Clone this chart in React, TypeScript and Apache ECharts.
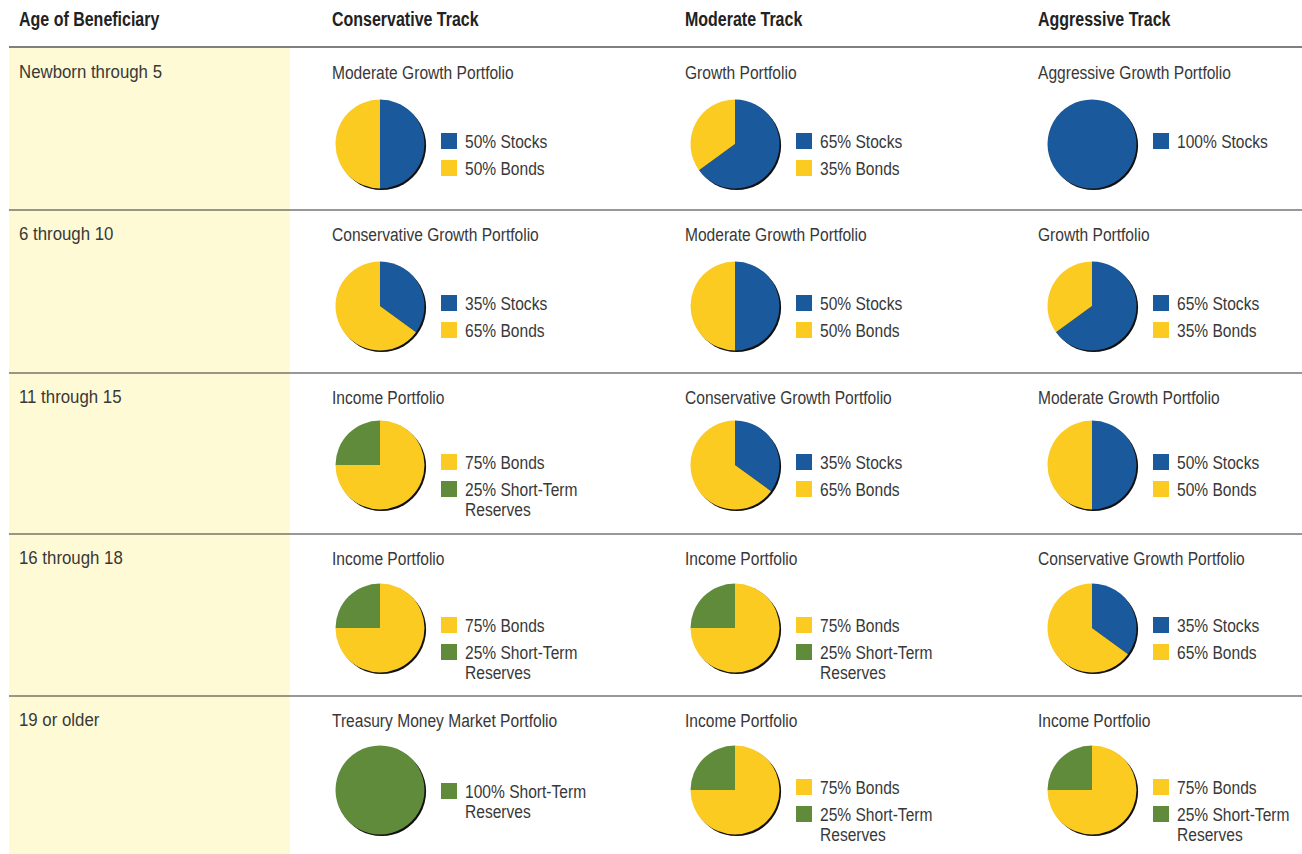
import React, { useEffect, useRef } from "react";
import * as echarts from "echarts";

const ages = ["Newborn through 5", "6 through 10", "11 through 15", "16 through 18", "19 or older"];
const tracks = ["Conservative Track", "Moderate Track", "Aggressive Track"];
const ageHeader = "Age of Beneficiary";

// per track (column), per age (row)
const portfolios = [
  ["Moderate Growth Portfolio", "Conservative Growth Portfolio", "Income Portfolio", "Income Portfolio", "Treasury Money Market Portfolio"],
  ["Growth Portfolio", "Moderate Growth Portfolio", "Conservative Growth Portfolio", "Income Portfolio", "Income Portfolio"],
  ["Aggressive Growth Portfolio", "Growth Portfolio", "Moderate Growth Portfolio", "Conservative Growth Portfolio", "Income Portfolio"],
];
const stocks = [
  [50, 35, 0, 0, 0],
  [65, 50, 35, 0, 0],
  [100, 65, 50, 35, 0],
];
const bonds = [
  [50, 65, 75, 75, 0],
  [35, 50, 65, 75, 75],
  [0, 35, 50, 65, 75],
];
const reserves = [
  [0, 0, 25, 25, 100],
  [0, 0, 0, 25, 25],
  [0, 0, 0, 0, 25],
];
const assetNames = ["Stocks", "Bonds", "Short-Term\nReserves"];

// layout & style
const BLUE = "#1a5a9c";
const YELLOW = "#fbcb22";
const GREEN = "#5f8b3b";
const COLORS = [BLUE, YELLOW, GREEN];
const FONT = '"Liberation Sans", Arial, sans-serif';
const SX = 0.82; // horizontal condensing to mimic a narrow face
const TEXT = "#383838";
const rowTops = [48, 210, 373, 534, 696];
const pieCY = [144, 306, 465, 628, 790];
const colX = [332, 685, 1038];
const pieCX = [380, 735, 1092];
const R = 44.5;

export default function App() {
  const ref = useRef<HTMLDivElement>(null);
  useEffect(() => {
    const chart = echarts.init(ref.current!, null, { renderer: "svg" });
    const series: any[] = [];
    const graphic: any[] = [];

    const txt = (x: number, y: number, text: string, font: string, fill = TEXT, sx = SX) => ({
      type: "text", x, y, scaleX: sx, z: 3,
      style: { text, font, fill, verticalAlign: "middle" },
    });

    // yellow age column
    graphic.push({ type: "rect", shape: { x: 9, y: 48, width: 281, height: 806 }, style: { fill: "#fffad6" }, z: 0 });
    // header line
    graphic.push({ type: "line", shape: { x1: 9, y1: 47, x2: 1302, y2: 47 }, style: { stroke: "#555", lineWidth: 1.5 }, z: 2 });
    rowTops.slice(1).forEach((y) => {
      graphic.push({ type: "line", shape: { x1: 9, y1: y, x2: 1302, y2: y }, style: { stroke: "#333", lineWidth: 1.2 }, z: 2 });
    });
    // headers
    graphic.push(txt(19, 19, ageHeader, `bold 19.5px ${FONT}`, "#222"));
    tracks.forEach((t, c) => graphic.push(txt(colX[c], 19, t, `bold 19.5px ${FONT}`, "#222")));
    ages.forEach((a, r) => graphic.push(txt(19, rowTops[r] + 24, a, `19px ${FONT}`, TEXT, 0.885)));

    tracks.forEach((_, c) => {
      ages.forEach((__, r) => {
        const cx = pieCX[c];
        const cy = pieCY[r];
        graphic.push(txt(colX[c], rowTops[r] + 24, portfolios[c][r], `19px ${FONT}`));
        const vals = [stocks[c][r], bonds[c][r], reserves[c][r]];
        const data = vals
          .map((v, i) => ({ value: v, name: `${v}% ${assetNames[i]}`, itemStyle: { color: COLORS[i] } }))
          .filter((d) => d.value > 0);
        // shadow
        series.push({
          type: "pie", silent: true, radius: R, center: [cx + 1.6, cy + 1.6], label: { show: false }, labelLine: { show: false },
          data: [{ value: 100, name: "shadow", itemStyle: { color: "#111" } }], z: 1,
        });
        series.push({
          type: "pie", silent: true, radius: R, center: [cx, cy], startAngle: 90, clockwise: true,
          label: { show: false }, labelLine: { show: false }, itemStyle: { borderWidth: 0 }, data, z: 2,
        });
        // legend
        const multiSingle = data.length === 1 && data[0].name.includes("\n");
        let y = cy - 3 + (multiSingle ? 4 : 0);
        data.forEach((d) => {
          graphic.push({ type: "rect", shape: { x: cx + 61, y: y - 8, width: 16, height: 16 }, style: { fill: d.itemStyle.color }, z: 3 });
          const lines = d.name.split("\n");
          lines.forEach((ln, k) => graphic.push(txt(cx + 85, y + k * 20, ln, `19px ${FONT}`)));
          y += 27 + (lines.length - 1) * 20;
        });
      });
    });

    chart.setOption({ animation: false, backgroundColor: "#ffffff", series, graphic });
    return () => chart.dispose();
  }, []);
  return <div ref={ref} style={{ position: "fixed", left: 0, top: 0, width: 1302, height: 854 }} />;
}
